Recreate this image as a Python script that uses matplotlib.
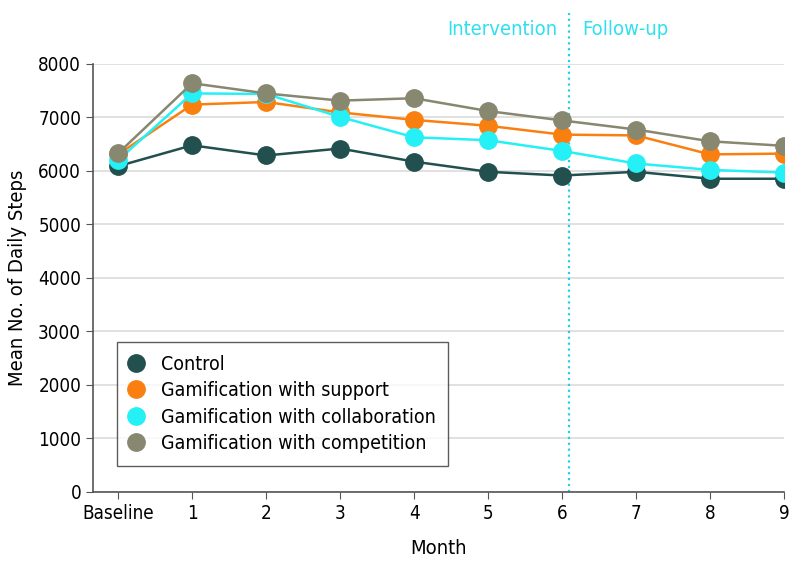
import matplotlib
matplotlib.use('Agg')
import matplotlib.pyplot as plt
import numpy as np

months = ['Baseline', '1', '2', '3', '4', '5', '6', '7', '8', '9']
control = [6090, 6480, 6290, 6420, 6175, 5985, 5915, 5985, 5855, 5855]
support = [6310, 7240, 7290, 7095, 6955, 6845, 6680, 6665, 6310, 6325]
collaboration = [6200, 7450, 7440, 7010, 6630, 6575, 6375, 6140, 6020, 5970]
competition = [6330, 7640, 7450, 7315, 7360, 7120, 6945, 6775, 6555, 6470]

series = [
    ('Control', control, '#21504f'),
    ('Gamification with support', support, '#f98010'),
    ('Gamification with collaboration', collaboration, '#25f0f5'),
    ('Gamification with competition', competition, '#888770'),
]

plt.rcParams['font.family'] = ['DejaVu Sans']
plt.rcParams['font.stretch'] = 'condensed'

fig = plt.figure(figsize=(7.98, 5.78), dpi=100)
ax = fig.add_axes([0.1165, 0.1488, 0.866, 0.7405])

x = np.arange(len(months))
for name, vals, col in series:
    ax.plot(x, vals, color=col, lw=1.8, marker='o', ms=12.5, label=name, zorder=3)

ax.set_ylim(0, 8000)
ax.set_xlim(-0.34, 9)
ax.set_yticks(range(0, 8001, 1000))
ax.set_xticks(x)
ax.set_xticklabels(months)
ax.yaxis.grid(True, color='#dcdcdc', lw=1.2)
ax.set_axisbelow(True)
ax.tick_params(labelsize=13.5, color='#555555', length=5)
for s in ['top', 'right']:
    ax.spines[s].set_visible(False)
for s in ['left', 'bottom']:
    ax.spines[s].set_color('#555555')
    ax.spines[s].set_linewidth(1.2)

ax.set_xlabel('Month', fontsize=14.5, labelpad=12)
ax.set_ylabel('Mean No. of Daily Steps', fontsize=14.5, labelpad=8)

ax.axvline(6.1, color='#25d0e6', ls=':', lw=1.6, ymax=1.12, clip_on=False)
ax.text(5.93, 8650, 'Intervention', color='#2fe0ee', fontsize=14.5, ha='right', va='center')
ax.text(6.27, 8650, 'Follow-up', color='#2fe0ee', fontsize=14.5, ha='left', va='center')

leg = ax.legend(loc='lower left', bbox_to_anchor=(0.021, 0.039), fontsize=14,
                frameon=True, fancybox=False, edgecolor='#333333',
                handlelength=0.6, handletextpad=1.0, borderpad=0.65, labelspacing=0.38)
for h in leg.legend_handles:
    h.set_linestyle('none')
leg.get_frame().set_linewidth(1.0)

fig.savefig('out.png', dpi=100)
